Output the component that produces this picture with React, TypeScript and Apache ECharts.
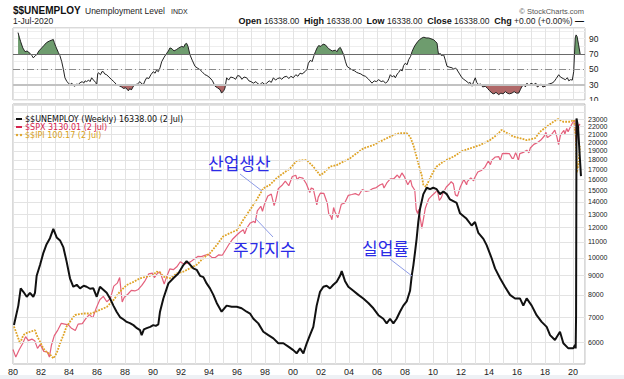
import React, { useEffect, useRef } from "react";
import * as echarts from "echarts";

// ---------- data (decimal year, value) ----------
const unemployment: [number, number][] = [
  [1980.07, 6674], [1980.38, 7500], [1980.55, 8320], [1980.74, 8150], [1980.98, 7910], [1981.21, 8100],
  [1981.45, 7910], [1981.57, 8100], [1981.69, 8975], [1981.93, 9570], [1982.17, 10300], [1982.4, 10850],
  [1982.64, 11250], [1982.88, 11900], [1983.12, 11300], [1983.36, 11100], [1983.6, 10640], [1983.83, 9770],
  [1984.07, 8840], [1984.31, 8400], [1984.55, 8500], [1984.79, 8320], [1985.05, 8450], [1985.26, 8400],
  [1985.5, 8300], [1985.74, 8320], [1985.98, 7910], [1986.21, 8400], [1986.45, 8250], [1986.69, 8100],
  [1986.93, 7830], [1987.17, 7500], [1987.4, 7230], [1987.64, 7000], [1987.9, 6900], [1988.12, 6800],
  [1988.35, 6750], [1988.6, 6670], [1988.85, 6550], [1989.07, 6470], [1989.19, 6280], [1989.35, 6500],
  [1989.55, 6550], [1989.8, 6600], [1990.02, 6670], [1990.2, 6640], [1990.38, 6700], [1990.5, 7230],
  [1990.74, 7830], [1991.1, 8570], [1991.45, 8840], [1991.81, 9100], [1992.17, 9570], [1992.4, 9800],
  [1992.64, 9600], [1992.88, 9380], [1993.12, 9300], [1993.36, 8970], [1993.6, 8900], [1993.83, 8570],
  [1994.07, 8320], [1994.31, 8000], [1994.55, 7620], [1994.9, 7230], [1995.26, 7500], [1995.62, 7450],
  [1995.98, 7450], [1996.33, 7380], [1996.69, 7230], [1996.93, 7150], [1997.17, 6930], [1997.52, 6740],
  [1997.88, 6410], [1998.24, 6280], [1998.6, 6160], [1998.95, 5980], [1999.31, 5980], [1999.67, 5860],
  [2000.02, 5740], [2000.26, 5630], [2000.5, 5800], [2000.74, 5630], [2000.98, 5980], [2001.21, 6280],
  [2001.45, 6600], [2001.69, 7500], [2001.93, 8150], [2002.17, 8400], [2002.4, 8450], [2002.64, 8320],
  [2002.88, 8500], [2003.12, 8660], [2003.36, 8970], [2003.48, 9230], [2003.71, 8700], [2003.95, 8400],
  [2004.31, 8200], [2004.67, 8000], [2005.02, 7830], [2005.38, 7620], [2005.74, 7380], [2006.1, 7080],
  [2006.45, 6930], [2006.69, 6740], [2006.93, 6930], [2007.17, 6740], [2007.4, 6930], [2007.64, 7230],
  [2007.88, 7500], [2008.12, 7690], [2008.36, 8200], [2008.48, 8970], [2008.6, 9570], [2008.71, 10300],
  [2008.83, 11200], [2008.95, 12400], [2009.07, 13400], [2009.31, 14660], [2009.55, 15230], [2009.79, 15100],
  [2010.02, 15230], [2010.26, 15100], [2010.5, 14660], [2010.74, 14900], [2010.98, 14660], [2011.21, 14200],
  [2011.45, 14050], [2011.69, 13900], [2011.93, 13060], [2012.4, 12640], [2012.76, 12140], [2013.0, 12400],
  [2013.24, 11610], [2013.6, 11200], [2013.83, 10790], [2014.19, 9970], [2014.43, 9380], [2014.79, 8840],
  [2015.14, 8400], [2015.5, 8000], [2015.86, 7830], [2016.21, 7830], [2016.45, 7500], [2016.69, 7830],
  [2017.05, 7500], [2017.4, 7080], [2017.76, 6800], [2018.12, 6600], [2018.36, 6280], [2018.71, 6100],
  [2019.07, 6410], [2019.31, 5980], [2019.67, 5800], [2020.02, 5800], [2020.14, 5920], [2020.19, 5800],
  [2020.22, 7100], [2020.25, 23100], [2020.36, 22000], [2020.46, 19000], [2020.57, 16338],
];

const spx: [number, number][] = [
  [1980.0, 114], [1980.2, 102], [1980.45, 114], [1980.7, 125], [1980.9, 138], [1981.1, 130], [1981.35, 133],
  [1981.55, 130], [1981.75, 116], [1981.95, 123], [1982.2, 111], [1982.45, 110], [1982.6, 102], [1982.75, 122],
  [1982.95, 140], [1983.2, 152], [1983.45, 168], [1983.7, 166], [1983.95, 164], [1984.15, 157], [1984.45, 151],
  [1984.65, 166], [1984.95, 167], [1985.2, 180], [1985.45, 191], [1985.7, 182], [1985.95, 211], [1986.2, 238],
  [1986.45, 250], [1986.7, 231], [1986.95, 242], [1987.2, 291], [1987.45, 304], [1987.62, 330], [1987.8, 230],
  [1987.95, 247], [1988.2, 258], [1988.45, 273], [1988.7, 271], [1988.95, 277], [1989.2, 294], [1989.45, 317],
  [1989.7, 349], [1989.95, 353], [1990.1, 330], [1990.3, 350], [1990.5, 360], [1990.8, 300], [1990.95, 330],
  [1991.2, 375], [1991.45, 371], [1991.7, 387], [1991.95, 417], [1992.2, 403], [1992.45, 408], [1992.7, 418],
  [1992.95, 435], [1993.2, 451], [1993.45, 450], [1993.7, 458], [1993.95, 466], [1994.2, 445], [1994.45, 444],
  [1994.7, 462], [1994.95, 459], [1995.2, 500], [1995.45, 544], [1995.7, 584], [1995.95, 615], [1996.2, 645],
  [1996.45, 670], [1996.55, 630], [1996.7, 687], [1996.95, 740], [1997.2, 757], [1997.3, 740], [1997.45, 885],
  [1997.7, 947], [1997.82, 880], [1997.95, 970], [1998.2, 1101], [1998.45, 1133], [1998.65, 957], [1998.75, 1017],
  [1998.95, 1229], [1999.2, 1286], [1999.45, 1372], [1999.7, 1282], [1999.95, 1469], [2000.2, 1498], [2000.3, 1400],
  [2000.45, 1454], [2000.7, 1436], [2000.95, 1320], [2001.2, 1160], [2001.3, 1240], [2001.45, 1224], [2001.7, 965],
  [2001.8, 1080], [2001.95, 1148], [2002.2, 1147], [2002.45, 990], [2002.55, 850], [2002.7, 815], [2002.78, 776],
  [2002.9, 930], [2002.98, 880], [2003.2, 800], [2003.45, 975], [2003.7, 996], [2003.95, 1112], [2004.2, 1126],
  [2004.45, 1141], [2004.7, 1115], [2004.95, 1212], [2005.2, 1181], [2005.45, 1191], [2005.7, 1229], [2005.95, 1248],
  [2006.2, 1295], [2006.4, 1320], [2006.5, 1240], [2006.7, 1336], [2006.95, 1418], [2007.2, 1421], [2007.45, 1503],
  [2007.6, 1440], [2007.78, 1549], [2007.95, 1468], [2008.2, 1300], [2008.4, 1400], [2008.5, 1280], [2008.7, 1200],
  [2008.8, 900], [2008.9, 850], [2008.98, 903], [2009.15, 735], [2009.2, 683], [2009.45, 919], [2009.7, 1057],
  [2009.95, 1115], [2010.2, 1169], [2010.3, 1217], [2010.45, 1031], [2010.6, 1080], [2010.7, 1141], [2010.95, 1258],
  [2011.2, 1326], [2011.3, 1360], [2011.45, 1321], [2011.6, 1120], [2011.75, 1100], [2011.95, 1258], [2012.2, 1408],
  [2012.4, 1300], [2012.45, 1362], [2012.7, 1441], [2012.9, 1380], [2012.95, 1426], [2013.2, 1569], [2013.45, 1606],
  [2013.7, 1682], [2013.95, 1848], [2014.1, 1750], [2014.2, 1872], [2014.45, 1960], [2014.7, 1972], [2014.8, 1860],
  [2014.95, 2059], [2015.2, 2068], [2015.45, 2063], [2015.65, 1920], [2015.75, 1920], [2015.9, 2090], [2015.95, 2044],
  [2016.1, 1864], [2016.2, 2060], [2016.45, 2099], [2016.7, 2168], [2016.85, 2085], [2016.95, 2239], [2017.2, 2363],
  [2017.45, 2423], [2017.7, 2519], [2017.95, 2674], [2018.07, 2824], [2018.15, 2620], [2018.25, 2641], [2018.45, 2718],
  [2018.7, 2914], [2018.85, 2640], [2018.97, 2351], [2019.1, 2700], [2019.25, 2834], [2019.35, 2900], [2019.42, 2750],
  [2019.55, 2990], [2019.65, 2850], [2019.75, 2977], [2019.95, 3231], [2020.13, 3386], [2020.22, 2305], [2020.3, 2836],
  [2020.38, 2930], [2020.45, 3193], [2020.5, 3130],
];

const ipi: [number, number][] = [
  [1980.07, 52.4], [1980.38, 50.2], [1980.5, 49.3], [1980.74, 50.8], [1981.0, 51.2], [1981.21, 51.4], [1981.57, 51.7],
  [1981.69, 50.8], [1981.93, 49.6], [1982.17, 48.4], [1982.4, 47.8], [1982.64, 47.4], [1982.88, 46.7], [1983.12, 47.6],
  [1983.36, 49.3], [1983.6, 50.8], [1983.83, 52.4], [1984.07, 53.3], [1984.43, 54.6], [1985.0, 54.9], [1985.6, 54.9],
  [1986.2, 55.6], [1986.7, 56.2], [1987.17, 57.6], [1987.64, 59.4], [1988.12, 60.8], [1988.6, 61.5], [1989.07, 62.3],
  [1989.55, 62.7], [1990.0, 63.0], [1990.26, 63.8], [1990.5, 63.6], [1990.74, 62.7], [1991.2, 62.3], [1991.7, 63.4],
  [1992.17, 63.8], [1992.64, 64.6], [1993.12, 65.4], [1993.6, 67.0], [1994.07, 68.2], [1994.55, 70.2], [1995.0, 72.4],
  [1995.5, 73.3], [1996.0, 74.1], [1996.45, 76.9], [1996.93, 79.7], [1997.4, 82.6], [1997.88, 86.1], [1998.36, 87.2],
  [1998.83, 89.3], [1999.3, 90.9], [1999.79, 92.5], [2000.26, 95.0], [2000.74, 95.3], [2000.98, 95.3], [2001.45, 93.1],
  [2001.93, 90.3], [2002.17, 90.9], [2002.64, 93.1], [2003.12, 93.6], [2003.6, 94.8], [2004.07, 95.9], [2004.55, 97.7],
  [2005.02, 99.4], [2005.74, 100.6], [2006.2, 101.8], [2006.7, 103.1], [2007.17, 104.3], [2007.64, 105.0], [2008.12, 105.0],
  [2008.36, 103.7], [2008.6, 100.6], [2008.79, 97.1], [2008.95, 94.2], [2009.19, 90.3], [2009.31, 87.2], [2009.5, 86.6],
  [2009.79, 89.3], [2010.02, 91.4], [2010.26, 93.1], [2010.74, 94.8], [2011.21, 95.9], [2011.69, 97.1], [2011.93, 98.2],
  [2012.64, 99.4], [2013.36, 100.6], [2014.07, 102.4], [2014.55, 104.3], [2014.9, 106.2], [2015.14, 105.5], [2015.74, 103.7],
  [2016.2, 103.1], [2016.7, 102.4], [2017.29, 103.1], [2017.64, 105.5], [2018.12, 107.5], [2018.6, 109.4], [2018.95, 110.5],
  [2019.3, 109.4], [2019.79, 109.4], [2020.07, 110.1], [2020.2, 103.5], [2020.28, 91.2], [2020.37, 93.5], [2020.45, 97.5],
  [2020.5, 100.17],
];

const rsi: [number, number][] = [
  [1980.36, 98], [1980.45, 92], [1980.55, 86], [1980.7, 78], [1980.86, 73], [1981.0, 74], [1981.21, 71], [1981.35, 68],
  [1981.45, 65], [1981.6, 68], [1981.69, 69], [1981.85, 74], [1982.05, 78], [1982.2, 81], [1982.4, 85], [1982.6, 87],
  [1982.88, 89], [1982.95, 85], [1983.05, 80], [1983.24, 72], [1983.35, 68], [1983.48, 60], [1983.6, 50], [1983.71, 39],
  [1983.85, 34], [1984.07, 30], [1984.2, 32], [1984.3, 29], [1984.43, 28], [1984.55, 31], [1984.65, 30], [1984.79, 32.5],
  [1984.95, 34], [1985.05, 32], [1985.15, 35], [1985.26, 34], [1985.4, 36], [1985.5, 34], [1985.62, 39], [1985.75, 36],
  [1985.9, 33], [1985.98, 30], [1986.05, 44], [1986.1, 45.6], [1986.25, 43], [1986.35, 47], [1986.45, 47], [1986.55, 44],
  [1986.69, 43], [1986.85, 40], [1987.05, 36.5], [1987.2, 34], [1987.4, 30], [1987.55, 29], [1987.76, 27], [1987.9, 25],
  [1988.05, 26], [1988.24, 22], [1988.35, 25], [1988.45, 23], [1988.6, 28], [1988.75, 30], [1988.9, 31], [1989.07, 34],
  [1989.2, 31], [1989.31, 30], [1989.45, 36], [1989.55, 39], [1989.7, 38], [1989.85, 43], [1990.02, 47], [1990.15, 45],
  [1990.25, 49], [1990.38, 47], [1990.5, 52], [1990.62, 60], [1990.8, 66], [1990.98, 71], [1991.1, 74], [1991.21, 78],
  [1991.35, 77], [1991.5, 74], [1991.69, 76], [1991.85, 78], [1992.05, 80], [1992.2, 79], [1992.3, 83], [1992.4, 84],
  [1992.5, 80], [1992.64, 69], [1992.8, 62], [1993.0, 54], [1993.15, 52], [1993.36, 49.5], [1993.5, 47], [1993.71, 43],
  [1993.85, 42], [1994.07, 39], [1994.25, 35], [1994.43, 28], [1994.6, 26], [1994.79, 23.5], [1994.9, 19], [1995.05, 22],
  [1995.14, 25.6], [1995.26, 39], [1995.4, 36], [1995.55, 40], [1995.74, 39], [1995.9, 37], [1996.05, 42], [1996.21, 41],
  [1996.35, 37], [1996.5, 40], [1996.69, 39], [1996.85, 35], [1997.0, 34], [1997.17, 32], [1997.35, 34], [1997.5, 31],
  [1997.64, 30], [1997.8, 33], [1998.0, 30], [1998.12, 32], [1998.3, 35], [1998.45, 33], [1998.6, 39], [1998.75, 36],
  [1998.9, 38], [1999.07, 39], [1999.2, 37], [1999.35, 40], [1999.55, 41], [1999.7, 38], [1999.85, 41], [2000.02, 39],
  [2000.2, 43], [2000.35, 41], [2000.5, 45], [2000.65, 44], [2000.86, 47], [2001.0, 50], [2001.1, 58], [2001.25, 62],
  [2001.36, 60], [2001.5, 68], [2001.6, 73], [2001.72, 78], [2001.83, 81], [2002.0, 80], [2002.15, 83], [2002.31, 82],
  [2002.45, 79], [2002.55, 77], [2002.67, 75.6], [2002.8, 74], [2003.02, 75], [2003.15, 73], [2003.25, 77], [2003.38, 78.6],
  [2003.5, 74], [2003.62, 69], [2003.75, 60], [2003.86, 54], [2004.0, 52], [2004.21, 49.5], [2004.4, 48], [2004.55, 46],
  [2004.69, 45], [2004.85, 44], [2005.0, 42], [2005.17, 41], [2005.35, 38], [2005.5, 35], [2005.64, 32], [2005.8, 35],
  [2005.95, 34], [2006.12, 36.5], [2006.3, 34], [2006.45, 35], [2006.6, 32], [2006.75, 34], [2006.85, 38], [2006.95, 43],
  [2007.1, 40], [2007.2, 42], [2007.31, 39], [2007.45, 44], [2007.55, 46], [2007.67, 49.5], [2007.8, 48], [2007.9, 55],
  [2008.02, 58], [2008.15, 56], [2008.26, 62.6], [2008.4, 67], [2008.5, 73], [2008.62, 78], [2008.74, 82], [2008.9, 86],
  [2009.05, 89], [2009.21, 91], [2009.35, 92], [2009.5, 91], [2009.69, 91], [2009.85, 90], [2010.05, 88.6], [2010.2, 86],
  [2010.29, 84], [2010.35, 75], [2010.4, 69], [2010.5, 71], [2010.6, 68], [2010.76, 69], [2010.88, 62], [2011.0, 54],
  [2011.15, 53], [2011.36, 52], [2011.5, 50], [2011.6, 52], [2011.71, 49.5], [2011.9, 44], [2012.07, 39], [2012.2, 37],
  [2012.35, 35], [2012.55, 32], [2012.65, 33], [2012.79, 28], [2012.9, 34], [2013.02, 39], [2013.12, 33], [2013.26, 30],
  [2013.4, 31], [2013.55, 27], [2013.74, 28], [2013.9, 25], [2014.05, 22], [2014.21, 19], [2014.35, 18], [2014.5, 20],
  [2014.69, 17], [2014.85, 19], [2015.0, 18], [2015.17, 21], [2015.3, 19], [2015.45, 18], [2015.64, 19], [2015.8, 21],
  [2015.95, 19], [2016.12, 19], [2016.25, 24], [2016.36, 28], [2016.5, 30], [2016.6, 27], [2016.71, 32], [2016.85, 29],
  [2017.0, 32], [2017.19, 30], [2017.35, 32], [2017.45, 27], [2017.55, 28], [2017.7, 31], [2017.85, 27], [2018.02, 28],
  [2018.15, 30], [2018.3, 31], [2018.5, 32], [2018.65, 34], [2018.8, 38], [2018.98, 43], [2019.1, 40], [2019.3, 38],
  [2019.45, 36.5], [2019.6, 39], [2019.7, 35], [2019.81, 36.5], [2019.95, 36], [2020.05, 47], [2020.16, 91], [2020.22, 95],
  [2020.29, 93], [2020.4, 82], [2020.52, 69],
];

const mainTicks = [6000, 7000, 8000, 9000, 10000, 11000, 12000, 13000, 14000, 15000, 16000, 17000, 18000, 19000, 20000, 21000, 22000, 23000];
const extraGridLines = [24000, 25000];
const rsiLabels = [10, 30, 50, 70, 90];

const FONT = '"Liberation Sans", Arial, sans-serif';
const LEGEND_FONT = '"DejaVu Sans", Verdana, sans-serif';
const KR_FONT = '"Noto Sans CJK KR", sans-serif';

export default function App() {
  const ref = useRef<HTMLDivElement>(null);
  useEffect(() => {
    const chart = echarts.init(ref.current!, null, { renderer: "svg" });
    const xBase = {
      type: "value" as const,
      min: 1980,
      max: 2020.857,
      interval: 1,
      axisLine: { show: false },
      axisTick: { show: false },
      splitLine: { show: true, lineStyle: { color: "#e3e3e3", width: 1 } },
    };
    const option: any = {
      animation: false,
      backgroundColor: "#ffffff",
      textStyle: { fontFamily: FONT },
      grid: [
        { left: 13, right: 39, top: 28, height: 72, show: true, borderColor: "#b5b5b5", borderWidth: 1, backgroundColor: "#fff" },
        { left: 13, right: 39, top: 104, bottom: 15, show: true, borderColor: "#b5b5b5", borderWidth: 1, backgroundColor: "#fff" },
      ],
      xAxis: [
        { ...xBase, gridIndex: 0, axisLabel: { show: false } },
        {
          ...xBase,
          gridIndex: 1,
          axisLabel: {
            show: true,
            fontSize: 9,
            color: "#222",
            margin: 3,
            fontFamily: FONT,
            formatter: (v: number) =>
              Number.isInteger(v) && v % 2 === 0 ? String(v % 100).padStart(2, "0") : "",
          },
        },
      ],
      yAxis: [
        {
          type: "value",
          gridIndex: 0,
          min: 10,
          max: 104,
          interval: 10,
          position: "right",
          axisLine: { show: false },
          axisTick: { show: false },
          splitLine: { show: true, lineStyle: { color: "#eeeeee" } },
          axisLabel: {
            fontSize: 8.5,
            color: "#222",
            margin: 4,
            fontFamily: FONT,
            formatter: (v: number) => (rsiLabels.indexOf(v) >= 0 ? String(v) : ""),
          },
        },
        { type: "log", gridIndex: 1, min: 5280, max: 25200, show: false, splitLine: { show: false } },
        { type: "log", gridIndex: 1, min: 92.1, max: 4289, show: false, splitLine: { show: false } },
        { type: "log", gridIndex: 1, min: 45.78, max: 116.6, show: false, splitLine: { show: false } },
      ],
      visualMap: {
        type: "piecewise",
        show: false,
        seriesIndex: 0,
        dimension: 1,
        pieces: [
          { gt: 70, color: "#6e9c6e" },
          { lt: 30, color: "#b06868" },
          { gte: 30, lte: 70, color: "rgba(255,255,255,0)" },
        ],
      },
      series: [
        {
          name: "rsiFill",
          type: "line",
          xAxisIndex: 0,
          yAxisIndex: 0,
          data: rsi,
          symbol: "none",
          lineStyle: { width: 0 },
          areaStyle: { origin: 70, opacity: 1 },
          silent: true,
          z: 2,
        },
        {
          name: "rsi",
          type: "line",
          xAxisIndex: 0,
          yAxisIndex: 0,
          data: rsi,
          symbol: "none",
          lineStyle: { color: "#222", width: 1 },
          silent: true,
          z: 4,
          markLine: {
            silent: true,
            symbol: ["none", "none"],
            label: { show: false },
            data: [
              { yAxis: 70, lineStyle: { color: "#6a6a6a", width: 1, type: "solid" } },
              { yAxis: 50, lineStyle: { color: "#8a8a8a", width: 1, type: [7, 3, 1, 3] } },
              { yAxis: 30, lineStyle: { color: "#c2c2c2", width: 2, type: "solid" } },
            ],
          },
        },
        {
          name: "gridlines",
          type: "line",
          xAxisIndex: 1,
          yAxisIndex: 1,
          data: [],
          z: 1,
          silent: true,
          markLine: {
            silent: true,
            symbol: ["none", "none"],
            lineStyle: { color: "#e3e3e3", width: 1, type: "solid" },
            label: {
              show: true,
              position: "end",
              distance: 3,
              fontSize: 7,
              lineHeight: 7,
              color: "#222",
              fontFamily: FONT,
              formatter: (p: any) => String(p.value),
            },
            data: [
              ...mainTicks.map((v) => ({ yAxis: v })),
              ...extraGridLines.map((v) => ({ yAxis: v, label: { show: false } })),
            ],
          },
        },
        {
          name: "$SPX",
          type: "line",
          xAxisIndex: 1,
          yAxisIndex: 2,
          data: spx,
          symbol: "none",
          lineStyle: { color: "#e4607c", width: 1.2 },
          z: 3,
        },
        {
          name: "$$IPI",
          type: "line",
          xAxisIndex: 1,
          yAxisIndex: 3,
          data: ipi,
          symbol: "none",
          lineStyle: { color: "#dfa326", width: 1.8, type: [1.8, 1.2] },
          z: 4,
        },
        {
          name: "$$UNEMPLOY",
          type: "line",
          xAxisIndex: 1,
          yAxisIndex: 1,
          data: unemployment,
          symbol: "none",
          lineStyle: { color: "#111", width: 2 },
          z: 5,
        },
      ],
      graphic: [
        { type: "rect", shape: { x: 0, y: 375, width: 624, height: 4 }, style: { fill: "#eef1f5" }, z: 50 },
        { type: "rect", shape: { x: 586, y: 101, width: 38, height: 3 }, style: { fill: "#fff" }, z: 50 },
        { type: "text", x: 13, y: 10, style: { text: "$$UNEMPLOY", fontSize: 10, fontWeight: "bold", fontFamily: FONT, fill: "#111", verticalAlign: "middle" }, z: 50 },
        { type: "text", x: 85, y: 11, style: { text: "Unemployment Level", fontSize: 8.5, fontFamily: FONT, fill: "#222", verticalAlign: "middle" }, z: 50 },
        { type: "text", x: 171, y: 11, style: { text: "INDX", fontSize: 7, fontFamily: FONT, fill: "#222", verticalAlign: "middle" }, z: 50 },
        { type: "text", x: 13, y: 21, style: { text: "1-Jul-2020", fontSize: 8.5, fontFamily: FONT, fill: "#222", verticalAlign: "middle" }, z: 50 },
        {
          type: "text",
          x: 584,
          y: 21,
          style: {
            text: "{b|Open} 16338.00  {b|High} 16338.00  {b|Low} 16338.00  {b|Close} 16338.00  {b|Chg} +0.00 (+0.00%) {b|—}",
            fontSize: 8.5,
            fontFamily: FONT,
            fill: "#222",
            align: "right",
            verticalAlign: "middle",
            rich: { b: { fontWeight: "bold", fontSize: 9, fontFamily: FONT, fill: "#111" } },
          },
          z: 50,
        },
        { type: "text", x: 584, y: 11, style: { text: "© StockCharts.com", fontSize: 7.5, fontFamily: FONT, fill: "#555", align: "right", verticalAlign: "middle" }, z: 50 },
        // legend
        { type: "rect", shape: { x: 16, y: 118, width: 6, height: 2 }, style: { fill: "#111" }, z: 50 },
        { type: "text", x: 25, y: 119, style: { text: "$$UNEMPLOY (Weekly) 16338.00 (2 Jul)", fontSize: 8, fontFamily: LEGEND_FONT, fill: "#111", verticalAlign: "middle" }, z: 50 },
        { type: "rect", shape: { x: 16, y: 126, width: 6, height: 2 }, style: { fill: "#d8244e" }, z: 50 },
        { type: "text", x: 25, y: 127, style: { text: "$SPX 3130.01 (2 Jul)", fontSize: 8, fontFamily: LEGEND_FONT, fill: "#d8244e", verticalAlign: "middle" }, z: 50 },
        { type: "circle", shape: { cx: 17, cy: 135, r: 1.2 }, style: { fill: "#dfa326" }, z: 50 },
        { type: "circle", shape: { cx: 21, cy: 135, r: 1.2 }, style: { fill: "#dfa326" }, z: 50 },
        { type: "text", x: 25, y: 135, style: { text: "$$IPI 100.17 (2 Jul)", fontSize: 8, fontFamily: LEGEND_FONT, fill: "#d9a21a", verticalAlign: "middle" }, z: 50 },
        // annotations
        { type: "text", x: 208, y: 162, style: { text: "산업생산", fontSize: 17, fontFamily: KR_FONT, fill: "#2b2be6", verticalAlign: "middle" }, z: 50 },
        { type: "line", shape: { x1: 240, y1: 174, x2: 262, y2: 191 }, style: { stroke: "#8d9be6", lineWidth: 1 }, z: 50 },
        { type: "text", x: 233, y: 248, style: { text: "주가지수", fontSize: 17, fontFamily: KR_FONT, fill: "#2b2be6", verticalAlign: "middle" }, z: 50 },
        { type: "line", shape: { x1: 255, y1: 218, x2: 273, y2: 237 }, style: { stroke: "#8d9be6", lineWidth: 1 }, z: 50 },
        { type: "text", x: 362, y: 247, style: { text: "실업률", fontSize: 17, fontFamily: KR_FONT, fill: "#2b2be6", verticalAlign: "middle" }, z: 50 },
        { type: "line", shape: { x1: 390, y1: 259, x2: 412, y2: 276 }, style: { stroke: "#8d9be6", lineWidth: 1 }, z: 50 },
      ],
    };
    chart.setOption(option);
    return () => chart.dispose();
  }, []);
  return <div ref={ref} style={{ position: "absolute", left: 0, top: 0, width: 624, height: 379 }} />;
}
